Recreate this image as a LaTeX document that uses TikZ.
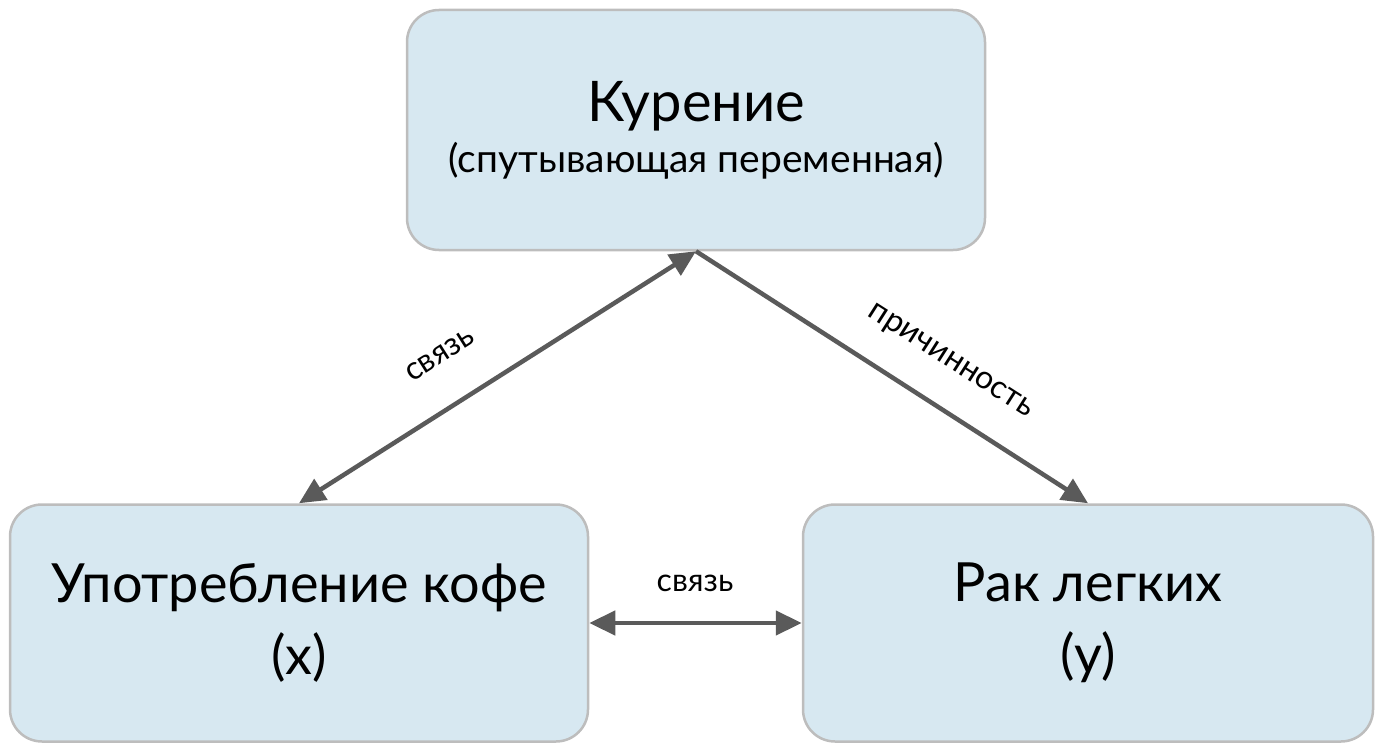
\documentclass[tikz,border=0pt]{standalone}
\usepackage{fontspec}
\setmainfont{Lato}
\usetikzlibrary{arrows.meta}
\definecolor{boxfill}{HTML}{D7E8F1}
\definecolor{boxline}{HTML}{BDBDBD}
\definecolor{arrowgray}{HTML}{5A5A5A}
\begin{document}
\begin{tikzpicture}[x=1pt, y=-1pt,
    box/.style={draw=boxline, line width=2.5pt, fill=boxfill, rounded corners=32pt,
        align=center, inner sep=0pt},
    link/.style={draw=arrowgray, line width=4.5pt, -{Triangle[length=26pt, width=24pt]}},
    lbl/.style={font=\fontsize{32}{36}\selectfont}]
    \useasboundingbox (0,0) rectangle (1382,752);

    % Boxes.
    \node[box, minimum width=578pt, minimum height=240pt] (smoke) at (696,130)
        {{\fontsize{56}{64}\selectfont Курение}\\[10pt]
         {\fontsize{39}{44}\selectfont (спутывающая переменная)}};
    \node[box, minimum width=578pt, minimum height=237pt,
        font=\fontsize{54}{72}\selectfont] (coffee) at (299,623)
        {Употребление кофе\\(x)};
    \node[box, minimum width=570pt, minimum height=237pt,
        font=\fontsize{54}{72}\selectfont] (cancer) at (1088,623)
        {Рак легких\\(y)};

    % Arrows.
    \draw[link, {Triangle[length=26pt, width=24pt]}-{Triangle[length=26pt, width=24pt]}]
        (smoke.south) -- (coffee.north);
    \draw[link] (smoke.south) -- (cancer.north);
    \draw[link, {Triangle[length=26pt, width=24pt]}-{Triangle[length=26pt, width=24pt]}]
        (coffee.east) -- (cancer.west);

    % Labels.
    \node[lbl, rotate=32.5] (l1) at (440,355) {связь};
    \node[lbl, rotate=-32.6] (l2) at (950,362) {причинность};
    \node[lbl] (l3) at (695,583) {связь};
\end{tikzpicture}
\end{document}
